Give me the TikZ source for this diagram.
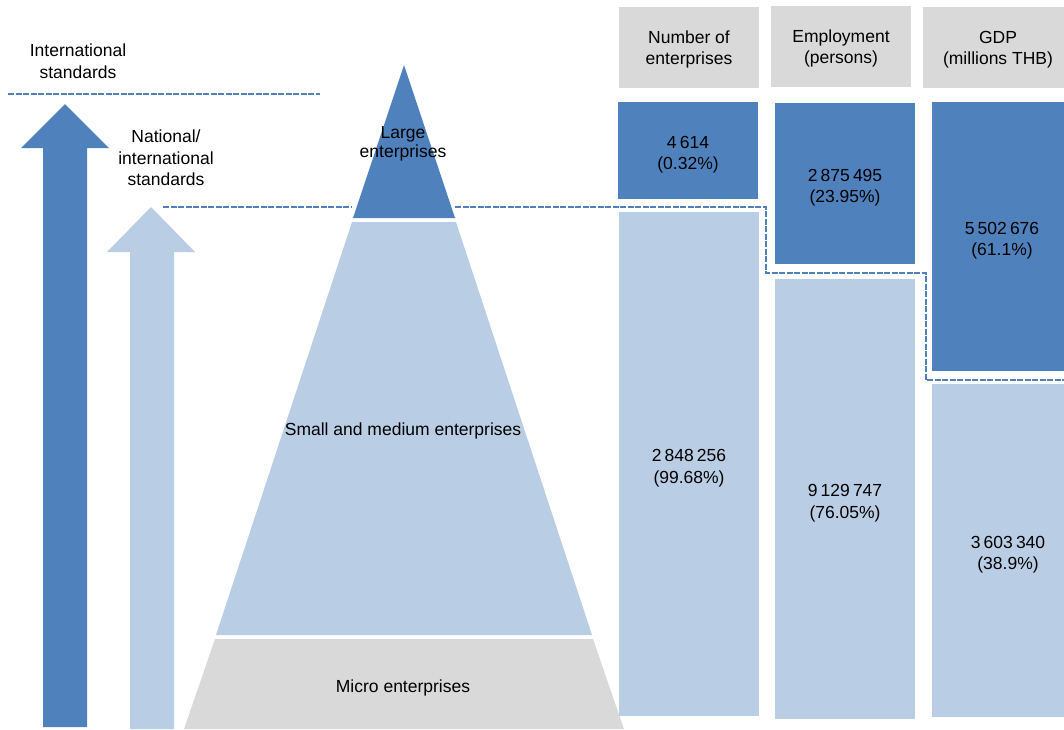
\documentclass[tikz,border=0pt]{standalone}
\usepackage{fontspec}
\setmainfont{Liberation Sans}
\definecolor{dblue}{HTML}{4F81BD}
\definecolor{lblue}{HTML}{B9CDE5}
\definecolor{lgray}{HTML}{D9D9D9}
\newcommand{\gs}{\hspace{0.18em}}
\newcommand{\dst}{\rule{0pt}{21pt}}
\newcommand{\hst}{\rule{0pt}{17pt}}
\begin{document}
\begin{tikzpicture}[x=1pt,y=-1pt,
  font=\fontsize{17.5}{21.5}\selectfont,
  box/.style={anchor=north west, inner sep=0pt, outer sep=0pt, align=center, text=black},
  dbox/.style={box},
  hbox/.style={box, fill=lgray, minimum height=81pt},
  lbl/.style={align=center, inner sep=0pt, text=black},
  sep/.style={draw=dblue, line width=2.4pt, dash pattern=on 6pt off 1.5pt}]
\useasboundingbox (0,0) rectangle (1064,729);

% arrows
\fill[dblue] (43,727) -- (43,148) -- (21,148) -- (65,104) -- (109,148) -- (87,148) -- (87,727) -- cycle;
\fill[lblue] (130,729) -- (130,252) -- (107,252) -- (151,207) -- (195,252) -- (174,252) -- (174,729) -- cycle;

% pyramid
\fill[dblue] (404,65) -- (455,218) -- (353,218) -- cycle;
\fill[lblue] (352,222) -- (456,222) -- (592,635) -- (216,635) -- cycle;
\fill[lgray] (215,639) -- (593,639) -- (624,729) -- (184,729) -- cycle;

% separators
\coordinate (s1a) at (8,94);
\coordinate (s1b) at (320,94);
\draw[sep] (s1a) -- (s1b);
\coordinate (s2a) at (163,207);
\coordinate (s2b) at (352,207);
\coordinate (s2c) at (455,207);
\coordinate (s2d) at (766,207);
\coordinate (s2e) at (766,273);
\coordinate (s2f) at (926,273);
\coordinate (s2g) at (926,380);
\coordinate (s2h) at (1070,380);
\draw[sep] (s2a) -- (s2b);
\draw[sep] (s2c) -- (s2d) -- (s2e) -- (s2f) -- (s2g) -- (s2h);

% left labels
\node[lbl] (intl) at (78,61) {International\\standards};
\node[lbl] (natl) at (166,158) {National/\\international\\standards};

% pyramid labels
\node[lbl, font=\fontsize{17.5}{18.5}\selectfont] (large) at (403,144) {Large\\enterprises};
\node[lbl] (sme) at (403,431) {Small and medium enterprises};
\node[lbl] (micro) at (403,688) {Micro enterprises};

% headers
\node[hbox, minimum width=140pt] (h1) at (619,7) {\hst Number of\\enterprises};
\node[hbox, minimum width=140pt] (h2) at (771,6) {\hst Employment\\(persons)};
\node[hbox, minimum width=150pt] (h3) at (923,7) {\hst GDP\\(millions THB)};

% data column 1
\node[dbox, fill=dblue, minimum width=140pt, minimum height=97pt] (c1a) at (618,102) {\dst 4\gs614\\(0.32\%)};
\node[dbox, fill=lblue, minimum width=140pt, minimum height=504pt] (c1b) at (619,212) {\dst 2\gs848\gs256\\(99.68\%)};
% data column 2
\node[dbox, fill=dblue, minimum width=140pt, minimum height=161pt] (c2a) at (775,103) {\dst 2\gs875\gs495\\(23.95\%)};
\node[dbox, fill=lblue, minimum width=140pt, minimum height=440pt] (c2b) at (775,279) {\dst 9\gs129\gs747\\(76.05\%)};
% data column 3
\node[dbox, fill=dblue, minimum width=140pt, minimum height=269pt] (c3a) at (932,102) {\dst 5\gs502\gs676\\(61.1\%)};
\node[dbox, fill=lblue, minimum width=152pt, minimum height=333pt] (c3b) at (932,384) {\dst 3\gs603\gs340\\(38.9\%)};
\end{tikzpicture}
\end{document}
